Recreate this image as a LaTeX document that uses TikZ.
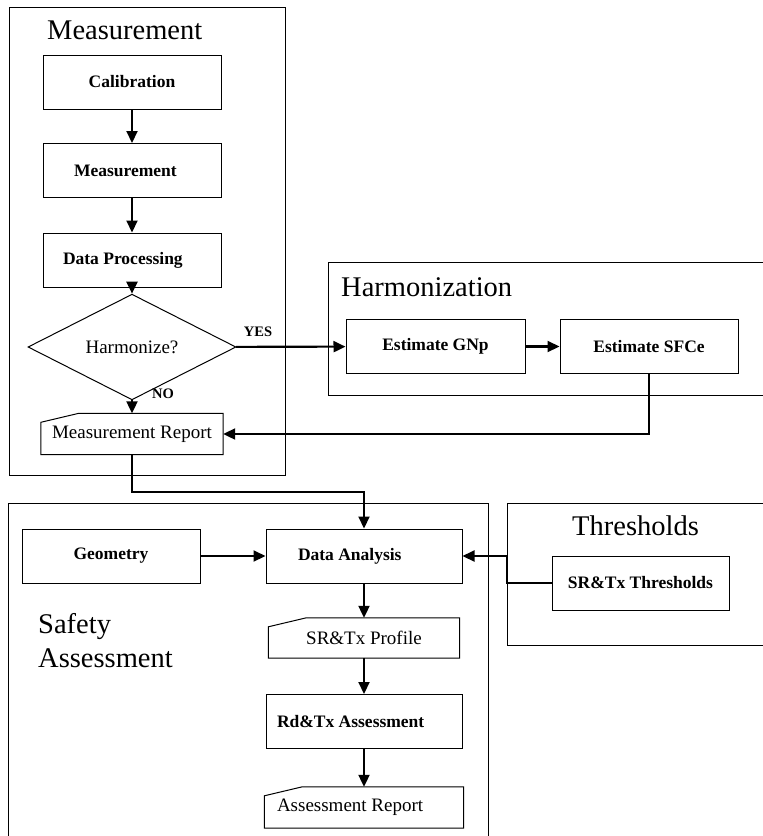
\documentclass[tikz,border=0pt]{standalone}
\usepackage{fontspec}
\setmainfont{Liberation Serif}
\usetikzlibrary{shapes.geometric}
\usetikzlibrary{arrows.meta}
\newcommand{\boxfont}{\fontsize{17.5}{20}\selectfont\bfseries}
\newcommand{\docfont}{\fontsize{19}{22}\selectfont}
\newcommand{\titlefont}{\fontsize{28.5}{34}\selectfont}

\begin{document}
\begin{tikzpicture}[x=1pt,y=-1pt,
    process/.style={draw, line width=1pt, minimum height=54pt, minimum width=178pt, inner sep=0pt, font=\boxfont},
    report/.style={minimum height=41pt, inner sep=0pt, font=\docfont},
    decision/.style={draw, diamond, line width=1pt, minimum width=208pt, minimum height=58pt, inner sep=0pt, font=\docfont},
    groupframe/.style={line width=0.9pt},
    grouptitle/.style={anchor=base west, inner sep=0pt, font=\titlefont},
    flow/.style={line width=2.1pt, -{Triangle[length=12pt,width=11pt]}},
    answer/.style={inner sep=0pt, font=\fontsize{14.5}{17}\selectfont\bfseries}]
      \clip (0,0) rectangle (763,836);
      \draw[groupframe] (9,7) rectangle (285,475);
      \draw[groupframe] (328,262) rectangle (800,395);
      \draw[groupframe] (8,503) rectangle (488,900);
      \draw[groupframe] (507,503) rectangle (800,645);
      \node [grouptitle] (meastitle) at (47,39) {Measurement};
      \node [grouptitle] (harmtitle) at (341,296) {Harmonization};
      \node [grouptitle] (thrtitle) at (572,535) {Thresholds};
      \node [grouptitle, anchor=north west, align=flush left] (safetytitle) at (38,613) {Safety\\Assessment};
      \node [process] (cal) at (132,82) {Calibration};
      \node [process, align=flush left, text width=116pt, inner xsep=31pt] (meas) at (132,170.5) {Measurement};
      \node [process, align=flush left, text width=138pt, inner xsep=20pt] (proc) at (132,260) {Data Processing};
      \node [decision] (harm) at (132,347) {Harmonize?};
      \node [report, minimum width=182pt] (rep) at (132,434) {Measurement Report};
      \node [process, minimum width=179pt] (gnp) at (435.5,346.5) {Estimate GNp};
      \node [process] (sfce) at (649,346.5) {Estimate SFCe};
      \node [process] (geo) at (111,556) {Geometry};
      \node [process, align=flush left, text width=132pt, inner xsep=32pt] (ana) at (364,556) {Data Analysis};
      \node [report, minimum width=191pt, minimum height=40pt] (prof) at (364,638) {SR\&Tx Profile};
      \node [process, align=flush left, text width=174pt, inner xsep=11pt] (rd) at (364,721.5) {Rd\&Tx Assessment};
      \node [report, align=flush left, text width=174pt, inner xsep=12.5pt] (arep) at (364,807.5) {Assessment Report};
      \node [process, minimum width=177pt] (thr) at (640.5,583) {SR\&Tx Thresholds};
      \node [answer] (yes) at (258,332) {YES};
      \node [answer] (no) at (163,394) {NO};
      \coordinate (thrbend) at (507,583);
      \foreach \n in {rep,prof,arep}
        \draw[line width=1pt] (\n.south west) -- ([yshift=-9pt]\n.north west) -- ([xshift=38pt]\n.north west) -- (\n.north east) -- (\n.south east) -- cycle;
      \draw[flow] (cal) -- (meas);
      \draw[flow] (meas) -- (proc);
      \draw[flow] (proc) -- (harm);
      \draw[flow] (harm) -- (rep);
      \draw[flow] (harm) -- (gnp);
      \draw[flow] (gnp) -- (sfce);
      \draw[flow] (sfce.south) |- (rep.east);
      \draw[flow] (rep.south) -- ++(0,37) -| (ana.north);
      \draw[flow] (geo) -- (ana);
      \draw[flow] (thr.west) -- (thrbend) |- (ana.east);
      \draw[flow] (ana) -- (prof);
      \draw[flow] (prof) -- (rd);
      \draw[flow] (rd) -- (arep);
    \end{tikzpicture}
\end{document}
